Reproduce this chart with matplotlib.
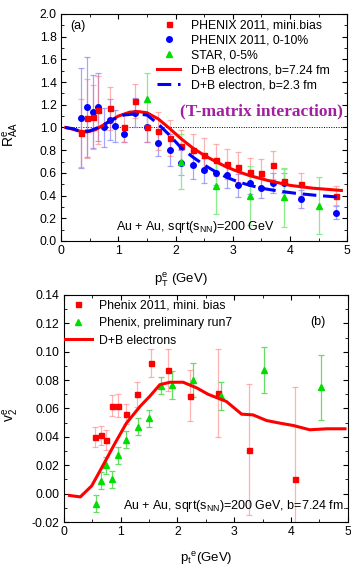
import numpy as np
import matplotlib
matplotlib.use('Agg')
import matplotlib.pyplot as plt
from matplotlib.lines import Line2D
from matplotlib.ticker import MultipleLocator

plt.rcParams['font.family'] = ['Liberation Sans', 'DejaVu Sans']
plt.rcParams['mathtext.fontset'] = 'custom'
plt.rcParams['mathtext.rm'] = 'Liberation Sans'
plt.rcParams['mathtext.it'] = 'Liberation Sans'

# %% panel (a): R_AA data
phx_mb_pt = [0.35, 0.45, 0.55, 0.65, 0.85, 1.1, 1.3, 1.5, 1.7, 1.9, 2.1, 2.3, 2.5, 2.7, 2.9, 3.1, 3.3, 3.5, 3.7, 3.9, 4.2, 4.8]
phx_mb_raa = [0.95, 1.08, 1.09, 1.15, 1.17, 1.00, 1.23, 1.00, 0.97, 0.91, 0.84, 0.80, 0.76, 0.71, 0.68, 0.65, 0.61, 0.60, 0.67, 0.53, 0.50, 0.40]
phx_mb_err = [0.30, 0.35, 0.28, 0.30, 0.19, 0.13, 0.15, 0.13, 0.17, 0.16, 0.14, 0.14, 0.15, 0.14, 0.13, 0.13, 0.12, 0.12, 0.12, 0.10, 0.10, 0.08]

phx_c_pt = [0.35, 0.45, 0.55, 0.65, 0.75, 0.85, 0.95, 1.1, 1.3, 1.5, 1.7, 1.9, 2.1, 2.3, 2.5, 2.7, 2.9, 3.1, 3.3, 3.5, 3.7, 3.9, 4.2, 4.8]
phx_c_raa = [1.08, 1.18, 1.14, 1.18, 1.00, 1.07, 1.01, 0.94, 1.13, 1.00, 0.86, 0.80, 0.69, 0.67, 0.625, 0.60, 0.58, 0.49, 0.51, 0.47, 0.51, 0.51, 0.37, 0.25]
phx_c_err = [0.44, 0.44, 0.32, 0.30, 0.17, 0.18, 0.14, 0.07, 0.13, 0.13, 0.11, 0.14, 0.11, 0.12, 0.11, 0.11, 0.11, 0.10, 0.10, 0.09, 0.09, 0.09, 0.08, 0.06]

star_pt = [1.5, 2.1, 2.7, 3.3, 3.9, 4.5]
star_raa = [1.25, 0.70, 0.48, 0.40, 0.385, 0.31]
star_err = [0.23, 0.24, 0.24, 0.26, 0.26, 0.25]

curve_b724_pt = [0.08, 0.2, 0.3, 0.45, 0.6, 0.8, 1.0, 1.2, 1.35, 1.5, 1.7, 1.9, 2.1, 2.3, 2.5, 2.7, 2.9, 3.1, 3.3, 3.6, 4.0, 4.4, 4.9]
curve_b724_raa = [1.0, 0.985, 0.97, 0.96, 0.98, 1.04, 1.10, 1.135, 1.14, 1.13, 1.075, 0.99, 0.90, 0.82, 0.755, 0.70, 0.65, 0.61, 0.575, 0.535, 0.49, 0.465, 0.445]

curve_b23_pt = [0.07, 0.2, 0.35, 0.5, 0.7, 0.9, 1.1, 1.3, 1.5, 1.7, 1.9, 2.1, 2.3, 2.5, 2.7, 2.9, 3.1, 3.3, 3.5, 3.8, 4.1, 4.5, 4.9]
curve_b23_raa = [1.0, 0.99, 0.965, 0.97, 1.01, 1.07, 1.11, 1.12, 1.11, 1.03, 0.93, 0.82, 0.74, 0.67, 0.61, 0.56, 0.52, 0.49, 0.465, 0.44, 0.42, 0.40, 0.385]

# %% panel (b): v2 data
phx_v2_pt = [0.55, 0.65, 0.75, 0.85, 0.95, 1.09, 1.29, 1.53, 1.84, 2.22, 2.72, 3.26, 4.07]
phx_v2 = [0.040, 0.041, 0.038, 0.062, 0.062, 0.056, 0.070, 0.092, 0.087, 0.069, 0.071, 0.031, 0.010]
phx_v2_err = [0.007, 0.007, 0.007, 0.0075, 0.008, 0.007, 0.009, 0.010, 0.015, 0.018, 0.031, 0.046, 0.065]

run7_pt = [0.56, 0.66, 0.75, 0.85, 0.96, 1.10, 1.31, 1.50, 1.71, 1.91, 2.27, 2.76, 3.53, 4.52]
run7_v2 = [-0.007, 0.009, 0.020, 0.010, 0.027, 0.038, 0.047, 0.053, 0.076, 0.0765, 0.080, 0.069, 0.087, 0.075]
run7_err = [0.006, 0.006, 0.006, 0.006, 0.006, 0.006, 0.006, 0.006, 0.006, 0.010, 0.012, 0.010, 0.016, 0.023]

curve_v2_pt = [0.1, 0.29, 0.49, 0.69, 0.9, 1.1, 1.34, 1.51, 1.69, 1.87, 2.1, 2.34, 2.54, 2.86, 3.13, 3.33, 3.57, 3.8, 4.04, 4.33, 4.63, 4.95]
curve_v2 = [-0.0013, -0.0023, 0.0055, 0.020, 0.0355, 0.0496, 0.0614, 0.0685, 0.0768, 0.0785, 0.0785, 0.0745, 0.070, 0.065, 0.056, 0.0555, 0.0515, 0.0497, 0.048, 0.045, 0.0457, 0.0457]

RED = '#ff0000'
BLUE = '#0000ff'
GREEN = '#00dd00'

fig = plt.figure(figsize=(3.51, 5.71), dpi=100)
ax1 = fig.add_axes([0.174, 0.578, 0.815, 0.3975])
ax2 = fig.add_axes([0.182, 0.0858, 0.809, 0.3976])

for ax in (ax1, ax2):
    ax.tick_params(which='both', direction='in', top=True, right=True, labelsize=8.8, pad=3)
    ax.tick_params(which='major', length=3.5, width=0.8)
    ax.tick_params(which='minor', length=2, width=0.6)
    ax.xaxis.set_major_locator(MultipleLocator(1))
    ax.xaxis.set_minor_locator(MultipleLocator(0.5))
    for s in ax.spines.values():
        s.set_linewidth(0.8)

# %% (a)
ebkw = dict(capsize=2.2, elinewidth=0.9, capthick=0.9, linestyle='none')
ax1.errorbar(phx_c_pt, phx_c_raa, yerr=phx_c_err, marker='o', ms=4.0, color=BLUE, ecolor=(0.5, 0.5, 1, 0.7), zorder=3, **ebkw)
ax1.errorbar(phx_mb_pt, phx_mb_raa, yerr=phx_mb_err, marker='s', ms=3.6, color=RED, ecolor=(1, 0.45, 0.45, 0.55), zorder=3, **ebkw)
ax1.errorbar(star_pt, star_raa, yerr=star_err, marker='^', ms=4.0, color=GREEN, ecolor='#88ee88', zorder=3, **ebkw)
ax1.plot(curve_b724_pt, curve_b724_raa, color=RED, lw=2.2, zorder=4)
ax1.plot(curve_b23_pt, curve_b23_raa, color=BLUE, lw=2.2, dashes=(4.5, 2.2), zorder=4)
ax1.axhline(1.0, color='k', lw=0.7, ls=(0, (1, 1.5)), zorder=1)

ax1.set_xlim(0, 5)
ax1.set_ylim(0, 2.0)
ax1.yaxis.set_minor_locator(MultipleLocator(0.1))
ax1.set_yticks(np.arange(0, 2.01, 0.2))
ax1.set_yticklabels([f'{v:.1f}' for v in np.arange(0, 2.01, 0.2)])
ax1.set_ylabel(r'R$_{\mathregular{AA}}^{\mathregular{e}}$', fontsize=10)
ax1.yaxis.set_label_coords(-0.14, 0.47)
ax1.set_xlabel(r'p$_{\mathregular{T}}^{\mathregular{e}}$ (GeV)', fontsize=9.5)
ax1.xaxis.set_label_coords(0.42, -0.135)

h_a = [Line2D([], [], ls='none', marker='s', ms=3.6, color=RED),
       Line2D([], [], ls='none', marker='o', ms=4.0, color=BLUE),
       Line2D([], [], ls='none', marker='^', ms=4.0, color=GREEN),
       Line2D([], [], color=RED, lw=2.2),
       Line2D([], [], color=BLUE, lw=2.2, dashes=(4.5, 2.2))]
l_a = ['PHENIX 2011, mini.bias', 'PHENIX 2011, 0-10%', 'STAR, 0-5%',
       'D+B electrons, b=7.24 fm', 'D+B electron, b=2.3 fm']
ax1.legend(h_a, l_a, loc='upper left', bbox_to_anchor=(0.335, 0.975), frameon=False,
           fontsize=8.8, handlelength=1.9, handletextpad=0.9, labelspacing=0.24,
           borderpad=0, borderaxespad=0, numpoints=1)
ax1.text(0.985, 0.57, '(T-matrix interaction)', transform=ax1.transAxes, ha='right', va='center',
         fontsize=12.5, fontweight='bold', family='Liberation Serif', color='#a020a0')
ax1.text(0.032, 0.935, '(a)', transform=ax1.transAxes, fontsize=9)
ax1.text(0.47, 0.06, r'Au + Au, sqrt(s$_{\mathregular{NN}}$)=200 GeV', transform=ax1.transAxes,
         ha='center', va='center', fontsize=9)

# %% (b)
ax2.errorbar(phx_v2_pt, phx_v2, yerr=phx_v2_err, marker='s', ms=3.6, color=RED, ecolor=(1, 0.45, 0.45, 0.55), zorder=3, **ebkw)
ax2.errorbar(run7_pt, run7_v2, yerr=run7_err, marker='^', ms=4.0, color=GREEN, ecolor='#66dd66', zorder=3, **ebkw)
ax2.plot(curve_v2_pt, curve_v2, color=RED, lw=2.2, zorder=4)

ax2.set_xlim(0, 5)
ax2.set_ylim(-0.02, 0.14)
ax2.yaxis.set_minor_locator(MultipleLocator(0.01))
yt = np.arange(-0.02, 0.141, 0.02)
ax2.set_yticks(yt)
ax2.set_yticklabels([f'{v:.2f}' for v in yt])
ax2.set_ylabel(r'v$_{\mathregular{2}}^{\mathregular{e}}$', fontsize=10)
ax2.yaxis.set_label_coords(-0.15, 0.47)
ax2.set_xlabel(r'p$_{\mathregular{t}}$$^{\mathregular{e}}$(GeV)', fontsize=9.5)
ax2.xaxis.set_label_coords(0.5, -0.125)

h_b = [Line2D([], [], ls='none', marker='s', ms=3.6, color=RED),
       Line2D([], [], ls='none', marker='^', ms=4.0, color=GREEN),
       Line2D([], [], color=RED, lw=2.2)]
l_b = ['Phenix 2011, mini. bias', 'Phenix, preliminary run7', 'D+B electrons']
ax2.legend(h_b, l_b, loc='upper left', bbox_to_anchor=(0.003, 0.98), frameon=False,
           fontsize=8.8, handlelength=2.2, handletextpad=0.6, labelspacing=0.45,
           borderpad=0, borderaxespad=0, numpoints=1)
ax2.text(0.895, 0.88, '(b)', transform=ax2.transAxes, ha='center', va='center', fontsize=9)
ax2.text(0.998, 0.07, r'Au + Au, sqrt(s$_{\mathregular{NN}}$)=200 GeV, b=7.24 fm.', transform=ax2.transAxes,
         ha='right', va='center', fontsize=9)

fig.savefig('out.png', dpi=100)
